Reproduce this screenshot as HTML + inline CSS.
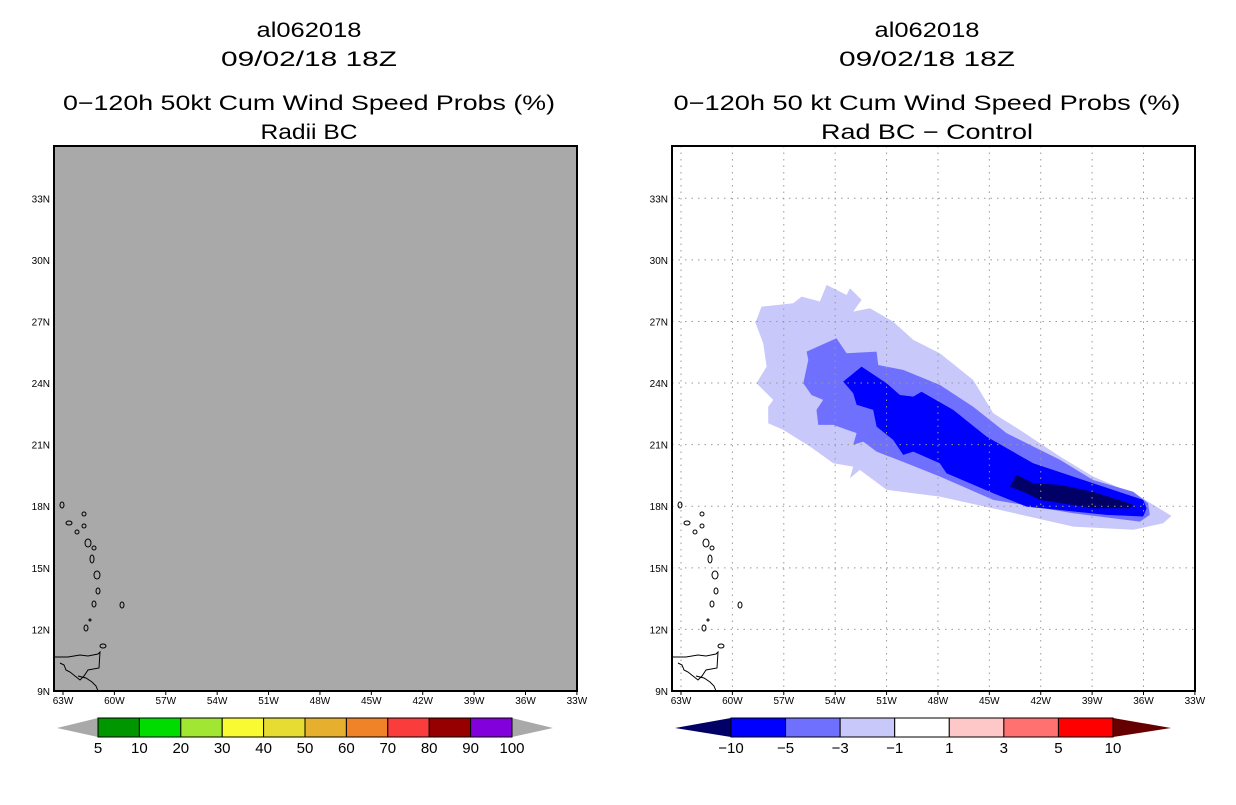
<!DOCTYPE html>
<html><head><meta charset="utf-8"><style>
body{margin:0;background:#fff}
svg text{font-family:"Liberation Sans",sans-serif;fill:#000}
</style></head><body>
<svg id="chart" width="1236" height="800" viewBox="0 0 1236 800">
<rect width="1236" height="800" fill="#fff"/>
<g font-size="21" text-anchor="middle">
<text x="309" y="37" textLength="105" lengthAdjust="spacingAndGlyphs">al062018</text><text x="309" y="66" textLength="176" lengthAdjust="spacingAndGlyphs">09/02/18 18Z</text>
<text x="309" y="110" textLength="492" lengthAdjust="spacingAndGlyphs">0−120h 50kt Cum Wind Speed Probs (%)</text><text x="309" y="139" textLength="97" lengthAdjust="spacingAndGlyphs">Radii BC</text></g>
<g font-size="21" text-anchor="middle">
<text x="927" y="37" textLength="105" lengthAdjust="spacingAndGlyphs">al062018</text><text x="927" y="66" textLength="176" lengthAdjust="spacingAndGlyphs">09/02/18 18Z</text>
<text x="927" y="110" textLength="507" lengthAdjust="spacingAndGlyphs">0−120h 50 kt Cum Wind Speed Probs (%)</text><text x="927" y="139" textLength="212" lengthAdjust="spacingAndGlyphs">Rad BC − Control</text></g>
<g id="left"></g>
<g id="right"></g>
<g id="cbl"></g>
<g id="cbr"></g>
</svg>
<script>
const lonTicks=[63,60,57,54,51,48,45,42,39,36,33];
const latTicks=[9,12,15,18,21,24,27,30,33];
const lvl1Lon=[58.59,58.30,56.45,55.96,54.89,54.50,53.33,53.14,52.46,52.95,51.97,50.61,49.44,47.89,45.94,44.77,43.22,40.88,38.94,36.21,34.37,34.85,36.60,40.10,44.39,47.89,51.00,52.56,53.14,52.95,54.11,55.47,57.03,57.91,57.91,57.61,58.59,58.00,58.20,58.68];
const lvl1Lat=[27.07,27.72,27.89,28.21,27.97,28.78,28.29,28.62,28.05,27.48,27.64,26.99,26.10,25.45,24.15,22.53,21.72,20.42,19.45,18.47,17.53,17.17,16.85,17.01,17.82,18.47,18.80,19.77,19.36,19.93,20.09,20.91,21.72,22.04,22.85,23.18,23.99,24.80,25.94,26.99];
const lvl3Lon=[55.67,53.92,53.33,51.58,51.49,50.03,47.89,45.94,44.00,40.88,38.94,36.60,35.73,35.63,36.21,40.10,44.77,47.89,49.83,51.58,52.36,52.95,52.75,54.11,54.99,55.09,54.70,55.38,55.86,55.57];
const lvl3Lat=[25.53,26.18,25.45,25.53,24.88,24.64,23.91,22.85,21.56,20.26,19.28,18.71,18.15,17.58,17.25,17.66,18.31,19.45,20.09,20.66,21.15,20.99,21.56,21.96,21.96,22.69,23.18,23.42,23.99,25.13];
const lvl5Lon=[53.53,52.46,51.00,50.22,49.44,48.96,47.11,45.16,42.44,38.94,36.02,35.82,36.02,38.16,42.83,44.77,47.50,47.89,49.44,50.03,50.61,51.58,51.78,52.75,52.95];
const lvl5Lat=[24.07,24.80,23.99,23.42,23.34,23.58,22.69,21.39,20.09,19.12,18.31,17.90,17.50,17.58,17.98,18.63,19.61,20.09,20.66,20.50,21.23,21.88,22.69,22.94,23.50];
const lvl10Lon=[43.80,43.41,42.44,40.88,38.94,36.60,36.80,38.94,42.05,42.83];
const lvl10Lat=[18.96,19.53,19.12,19.04,18.71,18.07,17.90,17.90,18.31,18.63];
const leftLevels=['5','10','20','30','40','50','60','70','80','90','100'];
const leftColors=['#009600','#00dc00','#a0e632','#fafa32','#e6dc32','#e6af2d','#f08228','#fa3c3c','#960000','#8200dc'];
const rightLevels=['−10','−5','−3','−1','1','3','5','10'];
const rightColors=['#0000ff','#7070ff','#c8c8fa','#ffffff','#ffc8c8','#ff7070','#ff0000'];
const NS='http://www.w3.org/2000/svg';
function el(t,a,p){const e=document.createElementNS(NS,t);for(const k in a)e.setAttribute(k,a[k]);p.appendChild(e);return e;}
const X0=54,W=523,Y0=146,H=545;
function xs(lon,off){return off+63+(63-lon)*17.13;}
function ys(lat){return 691-(lat-9)*20.53;}
function drawMap(g,off,bg,grid){
  const r=el('rect',{x:X0+off,y:Y0,width:W,height:H,fill:bg},g);
  
  if(grid){
    const polys=[[lvl1Lon,lvl1Lat,'#c8c8fa'],[lvl3Lon,lvl3Lat,'#7070ff'],[lvl5Lon,lvl5Lat,'#0000ff'],[lvl10Lon,lvl10Lat,'#000066']];
    polys.forEach((p,i)=>{
      const pts=p[0].map((lo,j)=>xs(lo,off).toFixed(1)+','+ys(p[1][j]).toFixed(1)).join(' ');
      const pg=el('polygon',{points:pts,fill:p[2]},g);
      
      
    });
    lonTicks.forEach(lo=>{const x=xs(lo,off);if(x>X0+off+1&&x<X0+off+W-1){const l=el('line',{x1:x,x2:x,y1:Y0,y2:Y0+H,stroke:'#999','stroke-dasharray':'1.5 5'},g);}});
    latTicks.forEach(la=>{const y=ys(la);if(y>Y0+1&&y<Y0+H-1){const l=el('line',{x1:X0+off,x2:X0+off+W,y1:y,y2:y,stroke:'#999','stroke-dasharray':'1.5 5'},g);}});
  }
  const isl=[[62,505,2,3],[69,523,3,2],[84,514,2,2],[84,526,2,2],[77,532,2,2],[88,543,3,4],[94,548,2,2],[92,559,2,4],[97,575,3,4],[98,591,2,3],[94,604,2,3],[122,605,2,3],[90,620,1,1],[86,628,2,3],[103,646,3,2]];
  isl.forEach(s=>{const e=el('ellipse',{cx:s[0]+off,cy:s[1],rx:s[2],ry:s[3],fill:'none',stroke:'#000','stroke-width':1},g);});
  const c=el('path',{d:`M${54+off},657 L68,657 L80,655 L88,656 L98,654 L100,652 L99,668 L88,670 L84,676 L80,680 L75,676 L70,672 L66,670 L64,665 L60,663 M78,676 L86,678 L92,682 L96,686 L98,691`.replace(/L(\d+)/g,(m,n)=>'L'+(+n+off)).replace(/M78/,'M'+(78+off)),fill:'none',stroke:'#000','stroke-width':1},g);
  
  const f=el('rect',{x:X0+off,y:Y0,width:W,height:H,fill:'none',stroke:'#000','stroke-width':2},g);
  
  lonTicks.forEach(lo=>{const t=el('text',{x:xs(lo,off),y:704,'font-size':10,'text-anchor':'middle'},g);t.textContent=lo+'W';
    el('line',{x1:xs(lo,off),x2:xs(lo,off),y1:691,y2:695,stroke:'#000'},g);});
  latTicks.forEach(la=>{const t=el('text',{x:off+50,y:ys(la)+4,'font-size':10,'text-anchor':'end'},g);t.textContent=la+'N';});
}
drawMap(document.getElementById('left'),0,'#a9a9a9',false);
drawMap(document.getElementById('right'),618,'#ffffff',true);
function colorbar(g,x0,x1,tl,tr,colors,labels,lc,rc){
  const y0=718,y1=737,ym=728,n=colors.length,w=(x1-x0)/n;
  const a=el('polygon',{points:`${tl},${ym} ${x0},${y0} ${x0},${y1}`,fill:lc},g);
  const b=el('polygon',{points:`${tr},${ym} ${x1},${y0} ${x1},${y1}`,fill:rc},g);
  colors.forEach((c,i)=>{const r=el('rect',{x:x0+i*w,y:y0,width:w,height:y1-y0,fill:c,stroke:'#000','stroke-width':1},g);});
  labels.forEach((l,i)=>{const t=el('text',{x:x0+i*w,y:753,'font-size':15,'text-anchor':'middle'},g);t.textContent=l;});
}
colorbar(document.getElementById('cbl'),98,512,57,553,leftColors,leftLevels,'#a9a9a9','#a9a9a9');
colorbar(document.getElementById('cbr'),731,1113,675,1171,rightColors,rightLevels,'#000066','#660000');
</script>
</body></html>
